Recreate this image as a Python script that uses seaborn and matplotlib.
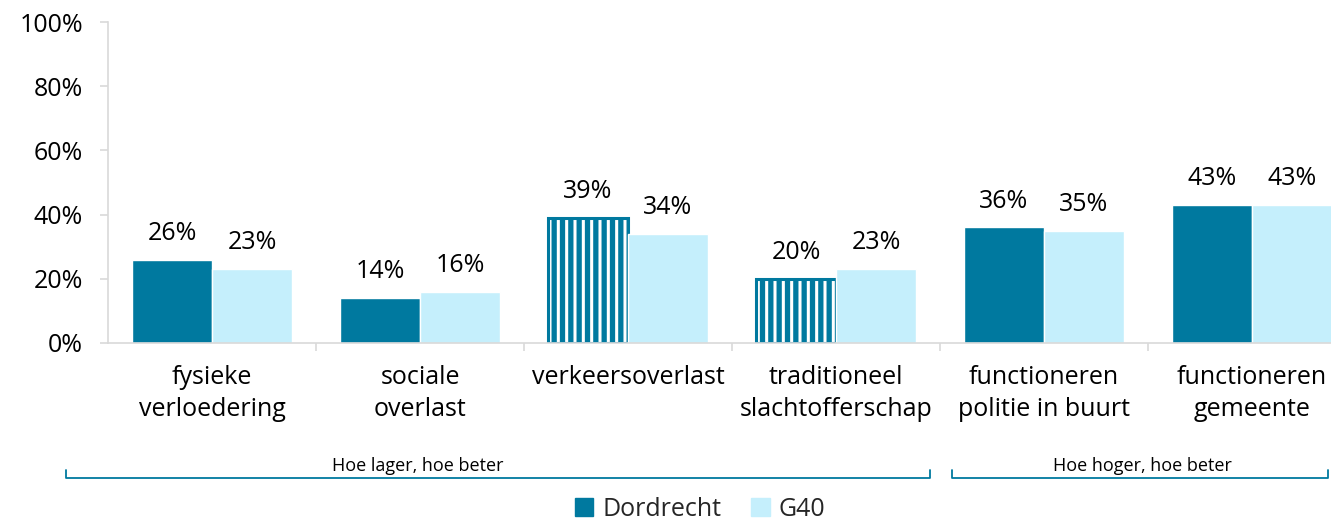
import pandas as pd
import seaborn as sns
import matplotlib.pyplot as plt
from matplotlib.lines import Line2D
from matplotlib.ticker import PercentFormatter

categorieen = [
    "fysieke\nverloedering",
    "sociale\noverlast",
    "verkeersoverlast",
    "traditioneel\nslachtofferschap",
    "functioneren\npolitie in buurt",
    "functioneren\ngemeente",
]
dordrecht = [0.26, 0.14, 0.39, 0.20, 0.36, 0.43]
g40 = [0.23, 0.16, 0.34, 0.23, 0.35, 0.43]
gebieden = ["Dordrecht", "G40"]
# Dordrecht bars drawn with vertical stripes
gestreept = [2, 3]

donker = "#00799F"
licht = "#C5EFFC"
rand = "#D9D9D9"

df = pd.DataFrame({
    "categorie": categorieen * 2,
    "waarde": dordrecht + g40,
    "gebied": [gebieden[0]] * 6 + [gebieden[1]] * 6,
})

sns.set_theme(style="white")
plt.rcParams["font.family"] = ["Open Sans", "DejaVu Sans"]
plt.rcParams["hatch.linewidth"] = 3.8

fig = plt.figure(figsize=(13.31, 5.21), dpi=100)
ax = fig.add_axes([108 / 1331, 1 - 343 / 521, 1248 / 1331, 321 / 521])

sns.barplot(data=df, x="categorie", y="waarde", hue="gebied",
            palette=[donker, licht], width=0.77, saturation=1,
            legend=False, ax=ax)

for i in gestreept:
    p = ax.containers[0][i]
    p.set_facecolor("white")
    p.set_edgecolor(donker)
    p.set_hatch("||")
    p.set_linewidth(2.2)

for cont, vals in zip(ax.containers, [dordrecht, g40]):
    ax.bar_label(cont, labels=[f"{round(v * 100)}%" for v in vals],
                 padding=10, fontsize=18, color="black")

ax.set_ylim(0, 1)
ax.set_xlim(-0.5, 5.5)
ax.set_yticks([0, 0.2, 0.4, 0.6, 0.8, 1.0])
ax.yaxis.set_major_formatter(PercentFormatter(1.0, decimals=0))
ax.set_xlabel("")
ax.set_ylabel("")

for s in ["top", "right"]:
    ax.spines[s].set_visible(False)
for s in ["left", "bottom"]:
    ax.spines[s].set_color(rand)
    ax.spines[s].set_linewidth(1.2)

ax.tick_params(axis="y", which="major", left=True, length=6, width=1.2,
               color=rand, pad=12, labelsize=18, labelcolor="black")
ax.tick_params(axis="x", which="major", length=0, pad=16, labelsize=18,
               labelcolor="black")
ax.set_xticks([x + 0.5 for x in range(5)], minor=True)
ax.tick_params(axis="x", which="minor", bottom=True, length=6, width=1.2,
               color=rand)
for lbl in ax.get_xticklabels():
    lbl.set_linespacing(1.35)

# brackets underneath the categories
def haak(x0, x1, y, tekst, xt):
    h = 8 / 521
    fig.add_artist(Line2D([x0 / 1331, x0 / 1331, x1 / 1331, x1 / 1331],
                          [y + h, y, y, y + h], color=donker, lw=1.3,
                          transform=fig.transFigure))
    fig.text(xt / 1331, y + 3 / 521, tekst, ha="center", va="bottom",
             fontsize=13, color="black")

haak(66, 930, 1 - 478 / 521, "Hoe lager, hoe beter", 418)
haak(952, 1328, 1 - 478 / 521, "Hoe hoger, hoe beter", 1142)

handles = [plt.Rectangle((0, 0), 1, 1, color=donker),
           plt.Rectangle((0, 0), 1, 1, color=licht)]
fig.legend(handles, gebieden, loc="center", ncol=2, frameon=False,
           bbox_to_anchor=(700 / 1331, 1 - 509 / 521), fontsize=18,
           handlelength=0.75, handleheight=0.75, handletextpad=0.35,
           columnspacing=1.2)

fig.savefig("out.png", dpi=100)
